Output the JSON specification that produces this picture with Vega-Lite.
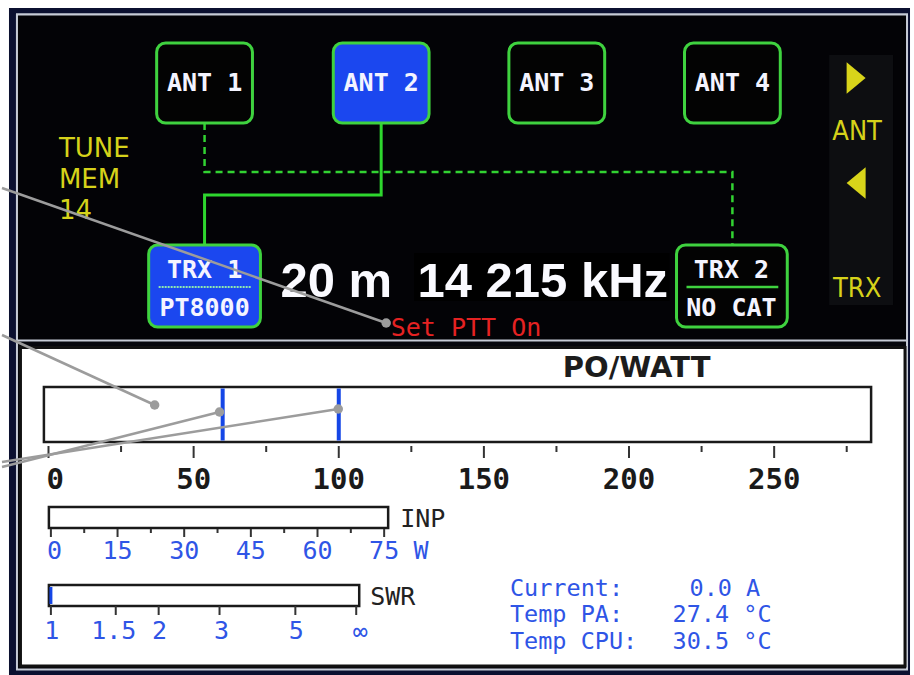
{
"$schema":"https://vega.github.io/schema/vega-lite/v6.json",
"width":914,"height":675,
"autosize":{"type":"fit","contains":"padding"},
"padding":0,
"background":"#ffffff",
"config":{"view":{"stroke":null}},
"resolve":{"scale":{"x":"independent"}},
"layer":[
{"data":{"values":[{"x":7,"x2":910,"y":8,"y2":675}]},
 "mark":{"type":"rect","fill":"#0b1030"},
 "encoding":{"x":{"field":"x","type":"quantitative","scale":{"domain":[0,914],"nice":false,"zero":false},"axis":null},"x2":{"field":"x2"},
 "y":{"field":"y","type":"quantitative","scale":{"domain":[0,675],"nice":false,"zero":false,"reverse":true},"axis":null},"y2":{"field":"y2"}}},
{"data":{"values":[{"x":15,"x2":907,"y":14.5,"y2":669.5}]},
 "mark":{"type":"rect","fill":"#06070d","stroke":"#c6cbd6","strokeWidth":2},
 "encoding":{"x":{"field":"x","type":"quantitative","scale":{"domain":[0,914],"nice":false,"zero":false},"axis":null},"x2":{"field":"x2"},
 "y":{"field":"y","type":"quantitative","scale":{"domain":[0,675],"nice":false,"zero":false,"reverse":true},"axis":null},"y2":{"field":"y2"}}},
{"data":{"values":[{"x":15,"x2":907,"y":14.5,"y2":340.5}]},
 "mark":{"type":"rect","fill":"#030306","stroke":"#c6cbd6","strokeWidth":2},
 "encoding":{"x":{"field":"x","type":"quantitative","scale":{"domain":[0,914],"nice":false,"zero":false},"axis":null},"x2":{"field":"x2"},
 "y":{"field":"y","type":"quantitative","scale":{"domain":[0,675],"nice":false,"zero":false,"reverse":true},"axis":null},"y2":{"field":"y2"}}},
{"data":{"values":[{"x":18.5,"x2":905,"y":347.5,"y2":666}]},
 "mark":{"type":"rect","fill":"#ffffff","stroke":"#111111","strokeWidth":3},
 "encoding":{"x":{"field":"x","type":"quantitative","scale":{"domain":[0,914],"nice":false,"zero":false},"axis":null},"x2":{"field":"x2"},
 "y":{"field":"y","type":"quantitative","scale":{"domain":[0,675],"nice":false,"zero":false,"reverse":true},"axis":null},"y2":{"field":"y2"}}},
{"data":{"values":[{"x":829,"x2":893,"y":55,"y2":305}]},
 "mark":{"type":"rect","fill":"#0d0e11"},
 "encoding":{"x":{"field":"x","type":"quantitative","scale":{"domain":[0,914],"nice":false,"zero":false},"axis":null},"x2":{"field":"x2"},
 "y":{"field":"y","type":"quantitative","scale":{"domain":[0,675],"nice":false,"zero":false,"reverse":true},"axis":null},"y2":{"field":"y2"}}},
{"data":{"values":[{"x":413,"x2":669,"y":253,"y2":301}]},
 "mark":{"type":"rect","fill":"#000000"},
 "encoding":{"x":{"field":"x","type":"quantitative","scale":{"domain":[0,914],"nice":false,"zero":false},"axis":null},"x2":{"field":"x2"},
 "y":{"field":"y","type":"quantitative","scale":{"domain":[0,675],"nice":false,"zero":false,"reverse":true},"axis":null},"y2":{"field":"y2"}}},
{"data":{"values":[{"x":380,"y":123,"o":0},{"x":380,"y":195,"o":1},{"x":203,"y":195,"o":2},{"x":203,"y":245,"o":3}]},
 "mark":{"type":"line","color":"#2ed62e","strokeWidth":3},
 "encoding":{"x":{"field":"x","type":"quantitative","scale":{"domain":[0,914],"nice":false,"zero":false},"axis":null},
 "y":{"field":"y","type":"quantitative","scale":{"domain":[0,675],"nice":false,"zero":false,"reverse":true},"axis":null},"order":{"field":"o"}}},
{"data":{"values":[{"x":203,"y":123,"o":0},{"x":203,"y":172,"o":1},{"x":732,"y":172,"o":2},{"x":732,"y":245,"o":3}]},
 "mark":{"type":"line","color":"#32d232","strokeWidth":2.5,"strokeDash":[7,5]},
 "encoding":{"x":{"field":"x","type":"quantitative","scale":{"domain":[0,914],"nice":false,"zero":false},"axis":null},
 "y":{"field":"y","type":"quantitative","scale":{"domain":[0,675],"nice":false,"zero":false,"reverse":true},"axis":null},"order":{"field":"o"}}},
{"data":{"values":[{"x":155,"x2":251,"y":43,"y2":123},{"x":508,"x2":604,"y":43,"y2":123},{"x":684,"x2":780,"y":43,"y2":123},{"x":676,"x2":787,"y":245,"y2":327}]},
 "mark":{"type":"rect","fill":"#030303","stroke":"#3fd23f","strokeWidth":3,"cornerRadius":9},
 "encoding":{"x":{"field":"x","type":"quantitative","scale":{"domain":[0,914],"nice":false,"zero":false},"axis":null},"x2":{"field":"x2"},
 "y":{"field":"y","type":"quantitative","scale":{"domain":[0,675],"nice":false,"zero":false,"reverse":true},"axis":null},"y2":{"field":"y2"}}},
{"data":{"values":[{"x":332,"x2":428,"y":43,"y2":123},{"x":147,"x2":259,"y":245,"y2":327}]},
 "mark":{"type":"rect","fill":"#1b47ef","stroke":"#3fd23f","strokeWidth":3,"cornerRadius":9},
 "encoding":{"x":{"field":"x","type":"quantitative","scale":{"domain":[0,914],"nice":false,"zero":false},"axis":null},"x2":{"field":"x2"},
 "y":{"field":"y","type":"quantitative","scale":{"domain":[0,675],"nice":false,"zero":false,"reverse":true},"axis":null},"y2":{"field":"y2"}}},
{"data":{"values":[{"x":157,"x2":250,"y":287}]},
 "mark":{"type":"rule","color":"#8fe8b0","strokeWidth":2,"strokeDash":[2,1]},
 "encoding":{"x":{"field":"x","type":"quantitative","scale":{"domain":[0,914],"nice":false,"zero":false},"axis":null},"x2":{"field":"x2"},
 "y":{"field":"y","type":"quantitative","scale":{"domain":[0,675],"nice":false,"zero":false,"reverse":true},"axis":null}}},
{"data":{"values":[{"x":686,"x2":778,"y":287}]},
 "mark":{"type":"rule","color":"#3fd23f","strokeWidth":2.5},
 "encoding":{"x":{"field":"x","type":"quantitative","scale":{"domain":[0,914],"nice":false,"zero":false},"axis":null},"x2":{"field":"x2"},
 "y":{"field":"y","type":"quantitative","scale":{"domain":[0,675],"nice":false,"zero":false,"reverse":true},"axis":null}}},
{"data":{"values":[{"label":"ANT 1","x":203,"y":83},{"label":"ANT 2","x":380,"y":83},{"label":"ANT 3","x":556,"y":83},{"label":"ANT 4","x":732,"y":83},{"label":"TRX 1","x":203,"y":270},{"label":"PT8000","x":203,"y":308},{"label":"TRX 2","x":731,"y":270},{"label":"NO CAT","x":731,"y":308}]},
 "mark":{"type":"text","font":"DejaVu Sans Mono","fontWeight":"bold","fontSize":25,"fill":"#f4f4ff","align":"center","baseline":"middle"},
 "encoding":{"x":{"field":"x","type":"quantitative","scale":{"domain":[0,914],"nice":false,"zero":false},"axis":null},
 "y":{"field":"y","type":"quantitative","scale":{"domain":[0,675],"nice":false,"zero":false,"reverse":true},"axis":null},"text":{"field":"label"}}},
{"data":{"values":[{"label":"TUNE","x":57,"y":149},{"label":"MEM","x":57,"y":180},{"label":"14","x":57,"y":211}]},
 "mark":{"type":"text","font":"DejaVu Sans","fontSize":26,"fill":"#d6d21a","align":"left","baseline":"middle"},
 "encoding":{"x":{"field":"x","type":"quantitative","scale":{"domain":[0,914],"nice":false,"zero":false},"axis":null},
 "y":{"field":"y","type":"quantitative","scale":{"domain":[0,675],"nice":false,"zero":false,"reverse":true},"axis":null},"text":{"field":"label"}}},
{"data":{"values":[{"label":"ANT","x":857,"y":132},{"label":"TRX","x":857,"y":289}]},
 "mark":{"type":"text","font":"DejaVu Sans Condensed, Liberation Sans Narrow, sans-serif","fontSize":27,"fill":"#d6d21a","align":"center","baseline":"middle"},
 "encoding":{"x":{"field":"x","type":"quantitative","scale":{"domain":[0,914],"nice":false,"zero":false},"axis":null},
 "y":{"field":"y","type":"quantitative","scale":{"domain":[0,675],"nice":false,"zero":false,"reverse":true},"axis":null},"text":{"field":"label"}}},
{"data":{"values":[{"dir":"right","x":856,"y":78},{"dir":"left","x":856,"y":183}]},
 "mark":{"type":"point","filled":true,"size":1000,"color":"#d8d41a","opacity":1},
 "encoding":{"x":{"field":"x","type":"quantitative","scale":{"domain":[0,914],"nice":false,"zero":false},"axis":null},
 "y":{"field":"y","type":"quantitative","scale":{"domain":[0,675],"nice":false,"zero":false,"reverse":true},"axis":null},
 "shape":{"field":"dir","type":"nominal","scale":{"domain":["right","left"],"range":["M-0.6,-1L0.6,0L-0.6,1Z","M0.6,-1L-0.6,0L0.6,1Z"]},"legend":null}}},
{"data":{"values":[{"label":"20 m","x":335,"y":297},{"label":"14 215 kHz","x":542,"y":297}]},
 "mark":{"type":"text","font":"Liberation Sans","fontWeight":"bold","fontSize":49,"fill":"#fafaff","align":"center","baseline":"alphabetic"},
 "encoding":{"x":{"field":"x","type":"quantitative","scale":{"domain":[0,914],"nice":false,"zero":false},"axis":null},
 "y":{"field":"y","type":"quantitative","scale":{"domain":[0,675],"nice":false,"zero":false,"reverse":true},"axis":null},"text":{"field":"label"}}},
{"data":{"values":[{"label":"Set PTT On","x":465,"y":327.5}]},
 "mark":{"type":"text","font":"DejaVu Sans Mono","fontSize":25,"fill":"#e52222","align":"center","baseline":"middle"},
 "encoding":{"x":{"field":"x","type":"quantitative","scale":{"domain":[0,914],"nice":false,"zero":false},"axis":null},
 "y":{"field":"y","type":"quantitative","scale":{"domain":[0,675],"nice":false,"zero":false,"reverse":true},"axis":null},"text":{"field":"label"}}},
{"data":{"values":[{"label":"PO/WATT","x":636,"y":368}]},
 "mark":{"type":"text","font":"DejaVu Sans","fontWeight":"bold","fontSize":29,"fill":"#1c1c1c","align":"center","baseline":"middle"},
 "encoding":{"x":{"field":"x","type":"quantitative","scale":{"domain":[0,914],"nice":false,"zero":false},"axis":null},
 "y":{"field":"y","type":"quantitative","scale":{"domain":[0,675],"nice":false,"zero":false,"reverse":true},"axis":null},"text":{"field":"label"}}},
{"data":{"values":[{"x":42,"x2":871,"y":387,"y2":442},{"x":47,"x2":387,"y":507,"y2":528},{"x":47,"x2":358,"y":585,"y2":606}]},
 "mark":{"type":"rect","fill":"#ffffff","stroke":"#1a1a1a","strokeWidth":2.5},
 "encoding":{"x":{"field":"x","type":"quantitative","scale":{"domain":[0,914],"nice":false,"zero":false},"axis":null},"x2":{"field":"x2"},
 "y":{"field":"y","type":"quantitative","scale":{"domain":[0,675],"nice":false,"zero":false,"reverse":true},"axis":null},"y2":{"field":"y2"}}},
{"data":{"values":[{"watt":60,"y":388.5,"y2":440.5},{"watt":100,"y":388.5,"y2":440.5}]},
 "mark":{"type":"rule","color":"#1546e6","strokeWidth":4},
 "encoding":{"x":{"field":"watt","type":"quantitative","scale":{"domain":[-16.02,298.18],"nice":false,"zero":false},"axis":null},
 "y":{"field":"y","type":"quantitative","scale":{"domain":[0,675],"nice":false,"zero":false,"reverse":true},"axis":null},"y2":{"field":"y2"}}},
{"data":{"values":[{"watt":0,"y":446,"y2":458},{"watt":50,"y":446,"y2":458},{"watt":100,"y":446,"y2":458},{"watt":150,"y":446,"y2":458},{"watt":200,"y":446,"y2":458},{"watt":250,"y":446,"y2":458},
 {"watt":25,"y":446,"y2":452},{"watt":75,"y":446,"y2":452},{"watt":125,"y":446,"y2":452},{"watt":175,"y":446,"y2":452},{"watt":225,"y":446,"y2":452},{"watt":275,"y":446,"y2":452}]},
 "mark":{"type":"rule","color":"#333333","strokeWidth":2},
 "encoding":{"x":{"field":"watt","type":"quantitative","scale":{"domain":[-16.02,298.18],"nice":false,"zero":false},"axis":null},
 "y":{"field":"y","type":"quantitative","scale":{"domain":[0,675],"nice":false,"zero":false,"reverse":true},"axis":null},"y2":{"field":"y2"}}},
{"data":{"values":[{"watt":50,"label":"50","y":480},{"watt":100,"label":"100","y":480},{"watt":150,"label":"150","y":480},{"watt":200,"label":"200","y":480},{"watt":250,"label":"250","y":480}]},
 "mark":{"type":"text","font":"DejaVu Sans Mono","fontWeight":"bold","fontSize":29,"fill":"#1a1a1a","align":"center","baseline":"middle"},
 "encoding":{"x":{"field":"watt","type":"quantitative","scale":{"domain":[-16.02,298.18],"nice":false,"zero":false},"axis":null},
 "y":{"field":"y","type":"quantitative","scale":{"domain":[0,675],"nice":false,"zero":false,"reverse":true},"axis":null},"text":{"field":"label"}}},
{"data":{"values":[{"watt":0,"label":"0","y":480}]},
 "mark":{"type":"text","font":"DejaVu Sans Mono","fontWeight":"bold","fontSize":29,"fill":"#1a1a1a","align":"left","baseline":"middle","dx":-2},
 "encoding":{"x":{"field":"watt","type":"quantitative","scale":{"domain":[-16.02,298.18],"nice":false,"zero":false},"axis":null},
 "y":{"field":"y","type":"quantitative","scale":{"domain":[0,675],"nice":false,"zero":false,"reverse":true},"axis":null},"text":{"field":"label"}}},
{"data":{"values":[{"w":0,"y":529,"y2":537},{"w":15,"y":529,"y2":537},{"w":30,"y":529,"y2":537},{"w":45,"y":529,"y2":537},{"w":60,"y":529,"y2":537},{"w":75,"y":529,"y2":537},
 {"w":7.5,"y":529,"y2":533},{"w":22.5,"y":529,"y2":533},{"w":37.5,"y":529,"y2":533},{"w":52.5,"y":529,"y2":533},{"w":67.5,"y":529,"y2":533}]},
 "mark":{"type":"rule","color":"#333333","strokeWidth":2},
 "encoding":{"x":{"field":"w","type":"quantitative","scale":{"domain":[-11.003,194.24],"nice":false,"zero":false},"axis":null},
 "y":{"field":"y","type":"quantitative","scale":{"domain":[0,675],"nice":false,"zero":false,"reverse":true},"axis":null},"y2":{"field":"y2"}}},
{"data":{"values":[{"w":15,"label":"15","y":551},{"w":30,"label":"30","y":551},{"w":45,"label":"45","y":551},{"w":60,"label":"60","y":551},{"w":75,"label":"75","y":551}]},
 "mark":{"type":"text","font":"DejaVu Sans Mono","fontSize":25,"fill":"#2f55e6","align":"center","baseline":"middle"},
 "encoding":{"x":{"field":"w","type":"quantitative","scale":{"domain":[-11.003,194.24],"nice":false,"zero":false},"axis":null},
 "y":{"field":"y","type":"quantitative","scale":{"domain":[0,675],"nice":false,"zero":false,"reverse":true},"axis":null},"text":{"field":"label"}}},
{"data":{"values":[{"w":0,"label":"0","y":551}]},
 "mark":{"type":"text","font":"DejaVu Sans Mono","fontSize":25,"fill":"#2f55e6","align":"left","baseline":"middle","dx":-4},
 "encoding":{"x":{"field":"w","type":"quantitative","scale":{"domain":[-11.003,194.24],"nice":false,"zero":false},"axis":null},
 "y":{"field":"y","type":"quantitative","scale":{"domain":[0,675],"nice":false,"zero":false,"reverse":true},"axis":null},"text":{"field":"label"}}},
{"data":{"values":[{"label":"W","x":420,"y":551},{"label":"1","x":50,"y":631},{"label":"1.5","x":112,"y":631},{"label":"2","x":158,"y":631},{"label":"3","x":220,"y":631},{"label":"5","x":295,"y":631},{"label":"∞","x":359,"y":632}]},
 "mark":{"type":"text","font":"DejaVu Sans Mono","fontSize":25,"fill":"#2f55e6","align":"center","baseline":"middle"},
 "encoding":{"x":{"field":"x","type":"quantitative","scale":{"domain":[0,914],"nice":false,"zero":false},"axis":null},
 "y":{"field":"y","type":"quantitative","scale":{"domain":[0,675],"nice":false,"zero":false,"reverse":true},"axis":null},"text":{"field":"label"}}},
{"data":{"values":[{"label":"INP","x":399,"y":519},{"label":"SWR","x":369,"y":597}]},
 "mark":{"type":"text","font":"DejaVu Sans Mono","fontSize":25,"fill":"#222222","align":"left","baseline":"middle"},
 "encoding":{"x":{"field":"x","type":"quantitative","scale":{"domain":[0,914],"nice":false,"zero":false},"axis":null},
 "y":{"field":"y","type":"quantitative","scale":{"domain":[0,675],"nice":false,"zero":false,"reverse":true},"axis":null},"text":{"field":"label"}}},
{"data":{"values":[{"x":49,"y":587,"y2":604}]},
 "mark":{"type":"rule","color":"#1546e6","strokeWidth":3},
 "encoding":{"x":{"field":"x","type":"quantitative","scale":{"domain":[0,914],"nice":false,"zero":false},"axis":null},
 "y":{"field":"y","type":"quantitative","scale":{"domain":[0,675],"nice":false,"zero":false,"reverse":true},"axis":null},"y2":{"field":"y2"}}},
{"data":{"values":[{"x":49,"y":606,"y2":615},{"x":114,"y":606,"y2":615},{"x":157,"y":606,"y2":615},{"x":218,"y":606,"y2":615},{"x":294,"y":606,"y2":615},{"x":355,"y":606,"y2":615}]},
 "mark":{"type":"rule","color":"#333333","strokeWidth":2},
 "encoding":{"x":{"field":"x","type":"quantitative","scale":{"domain":[0,914],"nice":false,"zero":false},"axis":null},
 "y":{"field":"y","type":"quantitative","scale":{"domain":[0,675],"nice":false,"zero":false,"reverse":true},"axis":null},"y2":{"field":"y2"}}},
{"data":{"values":[{"label":"Current:","x":509,"y":589},{"label":"Temp PA:","x":509,"y":615},{"label":"Temp CPU:","x":509,"y":642},{"label":"0.0 A","x":689,"y":589},{"label":"27.4 °C","x":672,"y":615},{"label":"30.5 °C","x":672,"y":642}]},
 "mark":{"type":"text","font":"DejaVu Sans Mono","fontSize":23.5,"fill":"#2f55e6","align":"left","baseline":"middle"},
 "encoding":{"x":{"field":"x","type":"quantitative","scale":{"domain":[0,914],"nice":false,"zero":false},"axis":null},
 "y":{"field":"y","type":"quantitative","scale":{"domain":[0,675],"nice":false,"zero":false,"reverse":true},"axis":null},"text":{"field":"label"}}},
{"data":{"values":[{"x":0,"y":188,"x2":385,"y2":323},{"x":0,"y":335,"x2":153,"y2":405},{"x":0,"y":467,"x2":218,"y2":412},{"x":0,"y":462,"x2":337,"y2":409}]},
 "mark":{"type":"rule","color":"#9c9c9c","strokeWidth":2.5},
 "encoding":{"x":{"field":"x","type":"quantitative","scale":{"domain":[0,914],"nice":false,"zero":false},"axis":null},"x2":{"field":"x2"},
 "y":{"field":"y","type":"quantitative","scale":{"domain":[0,675],"nice":false,"zero":false,"reverse":true},"axis":null},"y2":{"field":"y2"}}},
{"data":{"values":[{"x":385,"y":323},{"x":153,"y":405},{"x":218,"y":412},{"x":337,"y":409}]},
 "mark":{"type":"point","filled":true,"size":90,"color":"#9c9c9c","opacity":1},
 "encoding":{"x":{"field":"x","type":"quantitative","scale":{"domain":[0,914],"nice":false,"zero":false},"axis":null},
 "y":{"field":"y","type":"quantitative","scale":{"domain":[0,675],"nice":false,"zero":false,"reverse":true},"axis":null}}}
]
}
